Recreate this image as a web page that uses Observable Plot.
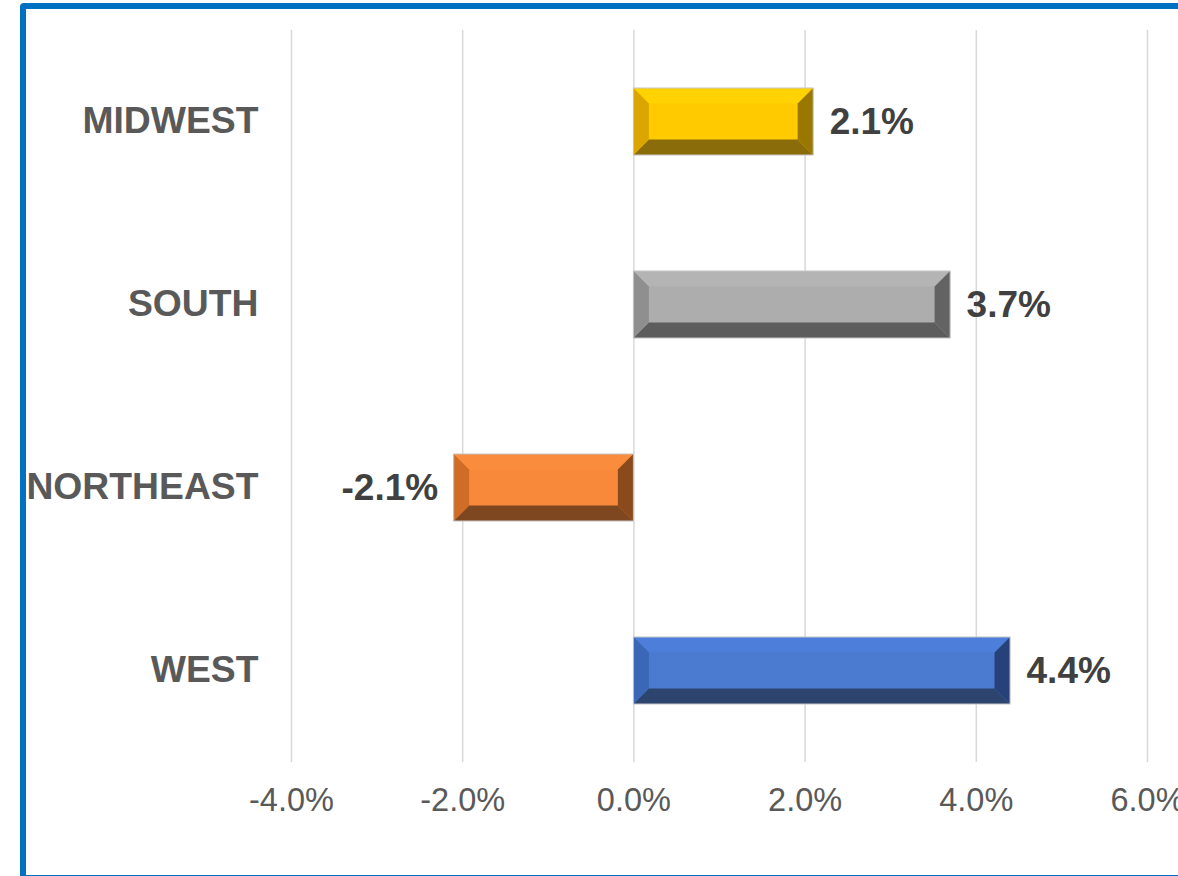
<!DOCTYPE html>
<html>
<head>
<meta charset="utf-8">
<script src="https://cdn.jsdelivr.net/npm/d3@7"></script>
<script src="https://cdn.jsdelivr.net/npm/@observablehq/plot@0.6"></script>
<style>
  html, body { margin: 0; padding: 0; background: #fff; overflow: hidden; width: 1178px; height: 876px; }
  #chart { position: absolute; left: 0; top: 0; }
  #frame { position: absolute; left: 20px; top: 3px; width: 1220px; height: 878px; box-sizing: border-box;
           border: 6px solid #0070C0; border-radius: 4px; pointer-events: none; }
</style>
</head>
<body>
<div id="chart"></div>
<div id="frame"></div>
<script>
// ---- data ----
const regions = ["MIDWEST", "SOUTH", "NORTHEAST", "WEST"];
const changes = [2.1, 3.7, -2.1, 4.4];
const xTicks = [-4, -2, 0, 2, 4, 6];

// ---- styles (kept apart from the data) ----
const palette = {
  MIDWEST:   {center: "#ffca00", top: "#ffd200", left: "#dca600", right: "#9a7800", bottom: "#8b6c0b"},
  SOUTH:     {center: "#adadad", top: "#b4b4b4", left: "#8f8f8f", right: "#636363", bottom: "#5d5d5d"},
  NORTHEAST: {center: "#f8883a", top: "#fa8d3d", left: "#cf6c26", right: "#8a4a1c", bottom: "#7f4720"},
  WEST:      {center: "#4a7bd0", top: "#4d7fda", left: "#3a67b6", right: "#27427a", bottom: "#2c446e"}
};

const data = regions.map((r, i) => ({region: r, value: changes[i]}));
const font = "'Liberation Sans', Arial, Helvetica, sans-serif";

// bevel overlay drawn through Plot's own scales
function bevel(index, scales) {
  const x = scales.x, y = scales.y;
  const bw = y.bandwidth ? y.bandwidth() : 67;
  const b = 15.5;
  const g = d3.create("svg:g");
  for (const d of data) {
    const xa = Math.min(x(0), x(d.value)), xb = Math.max(x(0), x(d.value));
    const ya = y(d.region), yb = ya + bw;
    const c = palette[d.region];
    const polys = [
      [c.top,    [[xa, ya], [xb, ya], [xb - b, ya + b], [xa + b, ya + b]]],
      [c.bottom, [[xa, yb], [xb, yb], [xb - b, yb - b], [xa + b, yb - b]]],
      [c.left,   [[xa, ya], [xa + b, ya + b], [xa + b, yb - b], [xa, yb]]],
      [c.right,  [[xb, ya], [xb - b, ya + b], [xb - b, yb - b], [xb, yb]]]
    ];
    for (const [fill, pts] of polys) {
      g.append("polygon").attr("points", pts.map(p => p.join(",")).join(" ")).attr("fill", fill);
    }
    g.append("rect").attr("x", xa).attr("y", ya).attr("width", xb - xa).attr("height", bw)
      .attr("fill", "none").attr("stroke", "#c4c4c4").attr("stroke-width", 1);
  }
  return g.node();
}

const plot = Plot.plot({
  width: 1178,
  height: 876,
  marginLeft: 291,
  marginRight: 31,
  marginTop: 30,
  marginBottom: 114,
  style: {background: "#ffffff", fontFamily: font},
  x: {domain: [-4, 6], axis: null},
  y: {domain: regions, axis: null, paddingInner: 0.634, paddingOuter: 0.317},
  marks: [
    Plot.ruleX(xTicks, {x: d => d, stroke: "#d9d9d9", strokeWidth: 1.5}),
    Plot.barX(data, {x: "value", y: "region", fill: d => palette[d.region].center}),
    bevel,
    // value labels
    Plot.text(data, {filter: d => d.value >= 0, x: "value", y: "region", text: d => d.value.toFixed(1) + "%",
      textAnchor: "start", dx: 16, dy: 0, fontSize: 37, fontWeight: "bold", fill: "#404040"}),
    Plot.text(data, {filter: d => d.value < 0, x: "value", y: "region", text: d => d.value.toFixed(1) + "%",
      textAnchor: "end", dx: -16, dy: 0, fontSize: 37, fontWeight: "bold", fill: "#404040"}),
    // category labels
    Plot.text(regions, {y: d => d, frameAnchor: "left", dx: -33, dy: -1, textAnchor: "end",
      fontSize: 37.3, fontWeight: "bold", fill: "#595959"}),
    // x tick labels
    Plot.text(xTicks, {x: d => d, frameAnchor: "bottom", lineAnchor: "middle", dy: 38, text: d => d.toFixed(1) + "%",
      fontSize: 32.5, fill: "#595959"})
  ]
});
document.getElementById("chart").appendChild(plot);
</script>
</body>
</html>
